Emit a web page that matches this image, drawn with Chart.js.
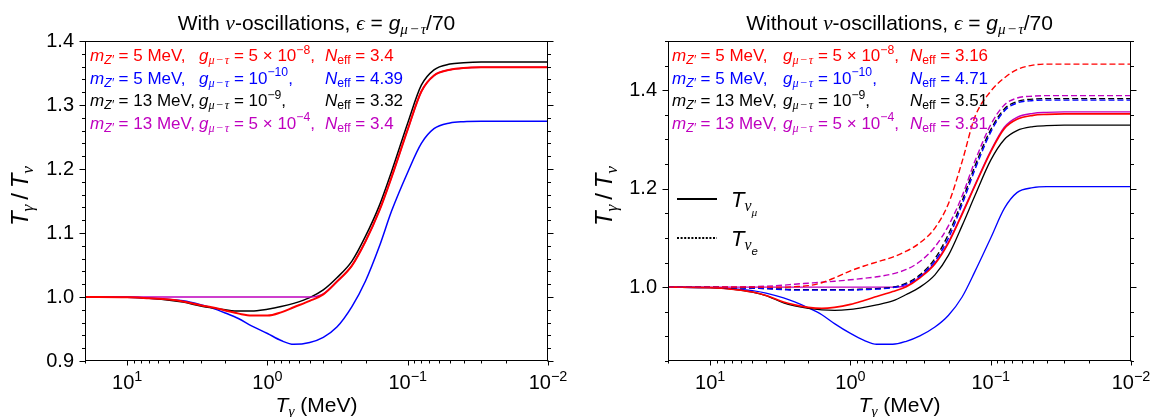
<!DOCTYPE html>
<html>
<head>
<meta charset="utf-8">
<script src="https://cdn.jsdelivr.net/npm/chart.js@4.4.0/dist/chart.umd.min.js"></script>
<style>
html, body { margin: 0; padding: 0; background: #fff; }
#wrap { position: relative; width: 1155px; height: 417px; }
canvas { position: absolute; top: 0; }
</style>
</head>
<body>
<div id="wrap">
  <canvas id="withOsc" width="578" height="417" style="left:0"></canvas>
  <canvas id="withoutOsc" width="577" height="417" style="left:578px"></canvas>
</div>
<script>
// photon temperature grid (MeV), shared by every curve
var T = [20, 10, 7, 5, 4, 3, 2.5, 2, 1.6, 1.3, 1, 0.8, 0.65, 0.5, 0.4, 0.32, 0.25, 0.2, 0.16, 0.13, 0.1, 0.08, 0.065, 0.05, 0.04, 0.03, 0.02, 0.01];

// with nu-oscillations
var withRed     = [1.000, 0.9995, 0.998, 0.996, 0.993, 0.987, 0.984, 0.979, 0.974, 0.971, 0.971, 0.976, 0.984, 0.994, 1.004, 1.024, 1.049, 1.087, 1.134, 1.188, 1.262, 1.321, 1.346, 1.355, 1.358, 1.359, 1.359, 1.359];
var withBlue    = [1.000, 0.9995, 0.998, 0.996, 0.994, 0.988, 0.983, 0.975, 0.966, 0.955, 0.943, 0.932, 0.926, 0.929, 0.937, 0.953, 0.985, 1.025, 1.078, 1.135, 1.195, 1.240, 1.263, 1.272, 1.274, 1.2745, 1.2745, 1.2745];
var withBlack   = [1.000, 0.9995, 0.998, 0.995, 0.992, 0.986, 0.983, 0.980, 0.978, 0.978, 0.981, 0.985, 0.990, 0.999, 1.011, 1.030, 1.056, 1.095, 1.142, 1.197, 1.272, 1.331, 1.355, 1.364, 1.366, 1.367, 1.367, 1.367];
var withMagenta = [1.000, 1.000, 1.000, 1.000, 1.000, 1.000, 1.000, 1.000, 1.000, 1.000, 1.000, 1.000, 1.000, 1.000, 1.005, 1.024, 1.049, 1.087, 1.134, 1.188, 1.262, 1.321, 1.346, 1.355, 1.358, 1.359, 1.359, 1.359];

// without nu-oscillations, T_nu_mu (solid)
var woRed     = [1.000, 0.999, 0.996, 0.990, 0.983, 0.970, 0.964, 0.959, 0.957, 0.959, 0.965, 0.973, 0.981, 0.991, 1.001, 1.019, 1.047, 1.090, 1.148, 1.205, 1.275, 1.322, 1.341, 1.349, 1.351, 1.352, 1.352, 1.352];
var woBlue    = [1.000, 0.999, 0.997, 0.993, 0.988, 0.978, 0.970, 0.958, 0.944, 0.926, 0.906, 0.892, 0.884, 0.884, 0.890, 0.901, 0.919, 0.943, 0.980, 1.031, 1.100, 1.160, 1.192, 1.202, 1.204, 1.204, 1.204, 1.204];
var woBlack   = [1.000, 0.999, 0.996, 0.990, 0.983, 0.968, 0.962, 0.957, 0.954, 0.953, 0.955, 0.959, 0.964, 0.972, 0.985, 1.000, 1.025, 1.065, 1.125, 1.185, 1.258, 1.300, 1.318, 1.326, 1.328, 1.329, 1.329, 1.329];
var woMagenta = [1.000, 1.000, 1.000, 1.000, 1.000, 1.000, 1.000, 1.000, 1.000, 1.000, 1.000, 1.000, 1.000, 1.000, 1.003, 1.021, 1.049, 1.092, 1.150, 1.207, 1.277, 1.325, 1.345, 1.353, 1.355, 1.356, 1.356, 1.356];

// without nu-oscillations, T_nu_e (dashed)
var woRedE     = [1.000, 1.000, 1.000, 1.000, 1.000, 1.000, 1.001, 1.003, 1.009, 1.019, 1.033, 1.043, 1.051, 1.061, 1.073, 1.090, 1.120, 1.170, 1.255, 1.345, 1.398, 1.425, 1.442, 1.451, 1.453, 1.453, 1.453, 1.453];
var woBlueE    = [1.000, 1.000, 0.999, 0.998, 0.997, 0.995, 0.994, 0.994, 0.994, 0.994, 0.994, 0.995, 0.996, 0.999, 1.006, 1.022, 1.053, 1.100, 1.168, 1.238, 1.315, 1.358, 1.374, 1.379, 1.380, 1.380, 1.380, 1.380];
var woBlackE   = [1.000, 1.000, 0.999, 0.998, 0.997, 0.996, 0.995, 0.995, 0.995, 0.995, 0.995, 0.996, 0.997, 1.000, 1.008, 1.025, 1.058, 1.108, 1.175, 1.245, 1.320, 1.362, 1.377, 1.382, 1.383, 1.383, 1.383, 1.383];
var woMagentaE = [1.000, 1.000, 1.0005, 1.001, 1.002, 1.004, 1.006, 1.008, 1.010, 1.012, 1.015, 1.018, 1.021, 1.027, 1.036, 1.052, 1.082, 1.125, 1.185, 1.255, 1.330, 1.370, 1.384, 1.388, 1.389, 1.389, 1.389, 1.389];

// ticks and annotation texts
var xMajor = [10, 1, 0.1, 0.01];
var xTickLabels = ['10^{1}', '10^{0}', '10^{−1}', '10^{−2}'];
var yTicksWith = [0.9, 1.0, 1.1, 1.2, 1.3, 1.4];
var yTicksWithout = [1.0, 1.2, 1.4];
var masses = ['5', '5', '13', '13'];
var couplings = ['5 × 10^{−8}', '10^{−10}', '10^{−9}', '5 × 10^{−4}'];
var neffWith = ['3.4', '4.39', '3.32', '3.4'];
var neffWithout = ['3.16', '4.71', '3.51', '3.31'];
var colors = ['#ff0000', '#0000ff', '#000000', '#bf00bf'];

var SANS = '"Liberation Sans", Arial, sans-serif';
var SERIF = '"Liberation Serif", "DejaVu Serif", serif';
var GMT = '%μ\u200a−\u200aτ%';

// tiny markup: *..* italic, %..% serif italic (greek), _{..} sub, ^{..} sup
function runs(str) {
    var out = [], cur = '', it = false, sf = false, lv = [0], i = 0;
    function push() {
        if (cur) out.push({ t: cur, it: it, sf: sf, lv: lv[lv.length - 1] });
        cur = '';
    }
    while (i < str.length) {
        var c = str[i];
        if ((c === '_' || c === '^') && str[i + 1] === '{') {
            push();
            lv.push(lv[lv.length - 1] + (c === '_' ? -1 : 1));
            i += 2;
            continue;
        }
        if (c === '}') { push(); lv.pop(); i++; continue; }
        if (c === '*') { push(); it = !it; i++; continue; }
        if (c === '%') { push(); sf = !sf; i++; continue; }
        cur += c;
        i++;
    }
    push();
    return out;
}

function drawRich(ctx, str, x, y, size, color, align) {
    var parts = runs(str), w = 0;
    function font(p) {
        var s = size * Math.pow(0.72, Math.abs(p.lv));
        return (p.it || p.sf ? 'italic ' : '') + s.toFixed(1) + 'px ' + (p.sf ? SERIF : SANS);
    }
    parts.forEach(function (p) { ctx.font = font(p); p.w = ctx.measureText(p.t).width; w += p.w; });
    var cx = align === 'center' ? x - w / 2 : (align === 'right' ? x - w : x);
    ctx.fillStyle = color;
    ctx.textAlign = 'left';
    ctx.textBaseline = 'alphabetic';
    parts.forEach(function (p) {
        ctx.font = font(p);
        var dy = p.lv < 0 ? -p.lv * size * 0.2 : -p.lv * size * 0.42;
        ctx.fillText(p.t, cx, y + dy);
        cx += p.w;
    });
    return w;
}

function panelPlugin(cfg) {
    return {
        id: 'panel',
        afterDatasetsDraw: function (chart) {
            var ctx = chart.ctx, a = chart.chartArea, sx = chart.scales.x, sy = chart.scales.y;
            var L = Math.round(a.left) + 0.5, R = Math.round(a.right) - 0.5;
            var Tp = Math.round(a.top) + 0.5, B = Math.round(a.bottom) - 0.5;
            ctx.save();
            ctx.strokeStyle = '#000';
            ctx.lineWidth = 1;
            ctx.strokeRect(L, Tp, R - L, B - Tp);

            ctx.beginPath();
            for (var d = -2; d <= 1; d++) {
                for (var m = 1; m <= 9; m++) {
                    var v = m * Math.pow(10, d);
                    if (v > sx.max * 1.0001) continue;
                    var px = Math.round(sx.getPixelForValue(v)) + 0.5;
                    ctx.moveTo(px, B);
                    ctx.lineTo(px, B + (m === 1 ? 5 : 3));
                }
            }
            var n = Math.round((sy.max - sy.min) / cfg.minor);
            for (var k = 0; k <= n; k++) {
                var yv = sy.min + k * cfg.minor;
                var major = cfg.yTicks.some(function (t) { return Math.abs(t - yv) < 1e-6; });
                var py = Math.round(sy.getPixelForValue(yv)) + 0.5;
                var len = major ? 6 : 3.5;
                ctx.moveTo(L, py); ctx.lineTo(L - len, py);
                ctx.moveTo(R, py); ctx.lineTo(R + len, py);
            }
            ctx.stroke();

            xMajor.forEach(function (v, i) {
                drawRich(ctx, xTickLabels[i], sx.getPixelForValue(v), 389, 20, '#000', 'center');
            });
            var mid = (a.left + a.right) / 2;
            drawRich(ctx, '*T*_{%γ%} (MeV)', mid, 412, 21, '#000', 'center');
            drawRich(ctx, cfg.title, mid, 30, 21, '#000', 'center');

            ctx.save();
            ctx.translate(cfg.ylabelX, 196);
            ctx.rotate(-Math.PI / 2);
            drawRich(ctx, '*T*_{%γ%}\u2009/\u2009*T*_{%ν%}', 0, 8, 24, '#000', 'center');
            ctx.restore();

            for (var i = 0; i < 4; i++) {
                var by = 61 + i * 22.5;
                drawRich(ctx, '*m*_{*Z′*} = ' + masses[i] + ' MeV,', a.left + cfg.cols[0], by, 17, colors[i], 'left');
                drawRich(ctx, '*g*_{' + GMT + '} = ' + couplings[i] + ',', a.left + cfg.cols[1], by, 17, colors[i], 'left');
                drawRich(ctx, '*N*_{eff} = ' + cfg.neff[i], a.left + cfg.cols[2], by, 17, colors[i], 'left');
            }

            if (cfg.styleLegend) {
                ctx.strokeStyle = '#000';
                ctx.lineWidth = 2;
                ctx.beginPath();
                ctx.moveTo(a.left + 9, 199); ctx.lineTo(a.left + 49, 199);
                ctx.stroke();
                ctx.setLineDash([2, 1.6]);
                ctx.beginPath();
                ctx.moveTo(a.left + 9, 238); ctx.lineTo(a.left + 49, 238);
                ctx.stroke();
                ctx.setLineDash([]);
                drawRich(ctx, '*T*_{%ν%_{%μ%}}', a.left + 63, 207, 22, '#000', 'left');
                drawRich(ctx, '*T*_{%ν%_{*e*}}', a.left + 63, 246, 22, '#000', 'left');
            }
            ctx.restore();
        }
    };
}

function line(ys, color, width, dash) {
    return {
        data: T.map(function (t, i) { return { x: t, y: ys[i] }; }),
        borderColor: color,
        borderWidth: width,
        borderDash: dash || [],
        pointRadius: 0,
        fill: false,
        cubicInterpolationMode: 'monotone'
    };
}

function makeChart(id, datasets, yMin, yMax, yTicks, yWidth, padRight, cfg) {
    cfg.yTicks = yTicks;
    return new Chart(document.getElementById(id), {
        type: 'line',
        data: { datasets: datasets },
        options: {
            responsive: false,
            animation: false,
            events: [],
            layout: { padding: { top: 41, right: padRight, left: 0, bottom: 0 } },
            plugins: { legend: { display: false }, tooltip: { enabled: false } },
            scales: {
                x: {
                    type: 'logarithmic',
                    reverse: true,
                    min: 0.01,
                    max: 20,
                    grid: { display: false, drawTicks: false },
                    border: { display: false },
                    ticks: { display: false },
                    afterFit: function (s) { s.height = 56; }
                },
                y: {
                    min: yMin,
                    max: yMax,
                    grid: { display: false, drawTicks: false },
                    border: { display: false },
                    afterBuildTicks: function (s) { s.ticks = yTicks.map(function (v) { return { value: v }; }); },
                    ticks: {
                        autoSkip: false,
                        padding: 11,
                        color: '#000',
                        font: { family: 'Liberation Sans', size: 20 },
                        callback: function (v) { return Number(v).toFixed(1); }
                    },
                    afterFit: function (s) { s.width = yWidth; }
                }
            }
        },
        plugins: [panelPlugin(cfg)]
    });
}

makeChart('withOsc', [
    line(withRed, colors[0], 2),
    line(withMagenta, colors[3], 1.5),
    line(withBlack, colors[2], 1.5),
    line(withBlue, colors[1], 1.5)
], 0.9, 1.4, yTicksWith, 85, 30, {
    title: 'With %ν%-oscillations, %ϵ% = *g*_{' + GMT + '}/70',
    minor: 0.02,
    ylabelX: 20,
    cols: [5, 114, 240],
    neff: neffWith,
    styleLegend: false
});

makeChart('withoutOsc', [
    line(woRedE, colors[0], 1.4, [6, 3]),
    line(woMagentaE, colors[3], 1.4, [6, 3]),
    line(woBlueE, colors[1], 1.4, [6, 3]),
    line(woBlackE, colors[2], 1.4, [6, 3]),
    line(woRed, colors[0], 1.6),
    line(woMagenta, colors[3], 1.4),
    line(woBlack, colors[2], 1.3),
    line(woBlue, colors[1], 1.3)
], 0.85, 1.5, yTicksWithout, 90, 24, {
    title: 'Without %ν%-oscillations, %ϵ% = *g*_{' + GMT + '}/70',
    minor: 0.05,
    ylabelX: 26,
    cols: [4, 115, 242],
    neff: neffWithout,
    styleLegend: true
});
</script>
</body>
</html>
